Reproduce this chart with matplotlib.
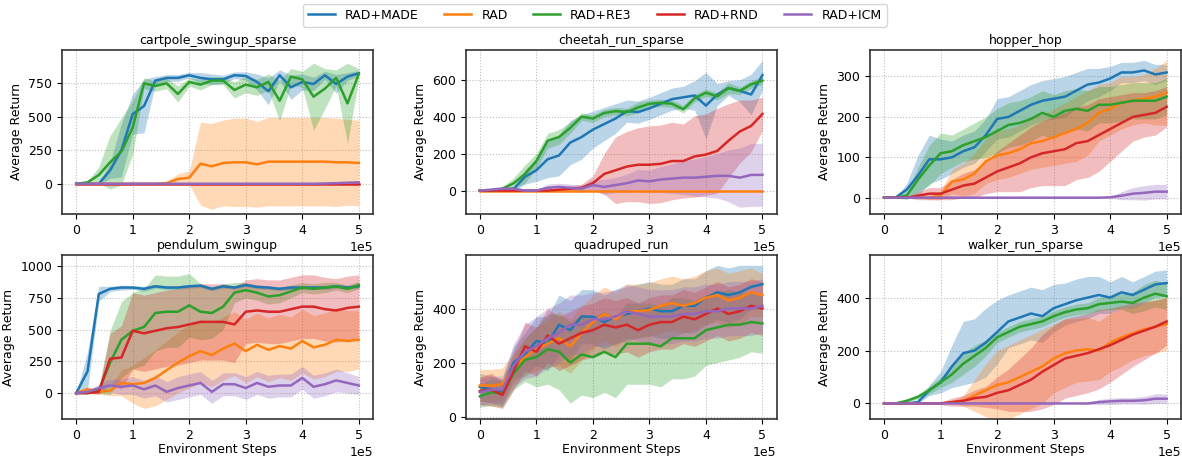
import numpy as np
import matplotlib
matplotlib.use("Agg")
from matplotlib import pyplot as plt

# evaluation every 2e4 environment steps
steps = np.linspace(0, 5e5, 26)

methods = ['RAD+MADE', 'RAD', 'RAD+RE3', 'RAD+RND', 'RAD+ICM']
colors = ['tab:blue', 'tab:orange', 'tab:green', 'tab:red', 'tab:purple']
tasks = ['cartpole_swingup_sparse', 'cheetah_run_sparse', 'hopper_hop',
         'pendulum_swingup', 'quadruped_run', 'walker_run_sparse']

# cartpole_swingup_sparse
cartpole_made = [0, 0, 0, 100, 250, 520, 580, 770, 790, 790, 810, 790, 780, 780, 810, 805, 760, 690, 810, 720, 760, 745, 810, 745, 800, 825]
cartpole_made_sd = [0, 0, 5, 60, 200, 150, 200, 30, 25, 25, 20, 40, 40, 30, 25, 30, 60, 100, 40, 90, 60, 50, 30, 70, 30, 20]
cartpole_rad = [0, 0, 0, 0, 0, 0, 0, 0, 5, 35, 45, 150, 130, 155, 160, 160, 145, 165, 165, 165, 165, 165, 165, 160, 160, 155]
cartpole_rad_sd = [0, 0, 0, 0, 0, 0, 0, 0, 10, 40, 50, 310, 320, 320, 330, 330, 320, 330, 330, 330, 330, 330, 330, 330, 320, 320]
cartpole_re3 = [0, 10, 65, 160, 240, 420, 750, 730, 750, 670, 760, 740, 770, 770, 700, 740, 720, 760, 620, 800, 780, 650, 710, 790, 600, 820]
cartpole_re3_sd = [0, 10, 60, 200, 250, 200, 40, 40, 40, 60, 30, 40, 30, 30, 60, 60, 60, 60, 150, 60, 60, 250, 150, 60, 300, 40]
cartpole_rnd = [0, 0, 0, 0, 0, 0, 0, 0, 0, 0, 0, 0, 0, 0, 0, 0, 0, 0, 0, 0, 0, 0, 0, 0, 0, 0]
cartpole_rnd_sd = [0, 0, 0, 0, 0, 0, 0, 0, 0, 0, 0, 0, 0, 0, 0, 0, 0, 0, 0, 0, 0, 0, 0, 0, 0, 0]
cartpole_icm = [0, 0, 0, 0, 0, 0, 0, 0, 0, 0, 0, 0, 0, 0, 0, 0, 0, 0, 0, 0, 0, 0, 2, 4, 8, 10]
cartpole_icm_sd = [0, 0, 0, 0, 0, 0, 0, 0, 0, 0, 0, 0, 0, 0, 0, 0, 0, 0, 0, 0, 0, 0, 4, 6, 10, 10]

# cheetah_run_sparse
cheetah_made = [0, 0, 5, 10, 75, 110, 170, 190, 260, 290, 330, 360, 390, 430, 425, 445, 470, 495, 505, 515, 460, 520, 555, 540, 520, 625]
cheetah_made_sd = [0, 0, 10, 10, 40, 60, 100, 110, 120, 120, 100, 90, 80, 60, 60, 60, 60, 60, 60, 80, 180, 60, 40, 60, 110, 80]
cheetah_rad = [0, 0, 0, 0, 0, 0, 0, 0, 0, 0, 0, 0, 0, 0, 0, 0, 0, 0, 0, 0, 0, 0, 0, 0, 0, 0]
cheetah_rad_sd = [0, 0, 0, 0, 0, 0, 0, 0, 0, 0, 0, 0, 0, 0, 0, 0, 0, 0, 0, 0, 0, 0, 0, 0, 0, 0]
cheetah_re3 = [0, 0, 10, 40, 90, 160, 270, 290, 340, 400, 390, 420, 430, 425, 450, 470, 475, 470, 440, 500, 530, 510, 555, 540, 575, 595]
cheetah_re3_sd = [0, 0, 10, 30, 50, 40, 40, 40, 30, 20, 20, 20, 20, 20, 30, 20, 20, 20, 20, 20, 20, 20, 30, 20, 20, 20]
cheetah_rnd = [0, 0, 0, 0, 0, 0, 0, 5, 10, 15, 40, 90, 110, 130, 140, 140, 145, 160, 160, 185, 195, 215, 270, 320, 350, 415]
cheetah_rnd_sd = [0, 0, 0, 0, 0, 5, 5, 10, 15, 20, 40, 110, 180, 190, 200, 210, 210, 210, 200, 220, 220, 230, 200, 170, 140, 90]
cheetah_icm = [0, 5, 10, 10, 0, 0, 15, 20, 15, 10, 30, 20, 30, 40, 55, 50, 60, 65, 70, 70, 75, 80, 80, 70, 85, 85]
cheetah_icm_sd = [0, 10, 15, 10, 5, 5, 20, 20, 20, 20, 30, 40, 40, 50, 60, 60, 70, 80, 90, 100, 110, 120, 140, 160, 170, 170]

# hopper_hop
hopper_made = [0, 0, 20, 55, 95, 95, 100, 115, 125, 155, 195, 200, 215, 230, 240, 245, 250, 265, 280, 285, 295, 310, 310, 315, 305, 310]
hopper_made_sd = [0, 0, 15, 50, 60, 50, 40, 40, 40, 40, 50, 50, 50, 50, 50, 50, 50, 45, 40, 35, 30, 25, 25, 25, 25, 20]
hopper_rad = [0, 0, 0, 0, 0, 5, 40, 45, 60, 90, 105, 110, 120, 135, 140, 150, 160, 170, 185, 210, 220, 235, 240, 245, 250, 260]
hopper_rad_sd = [0, 0, 0, 0, 5, 10, 30, 40, 50, 55, 60, 60, 60, 65, 65, 70, 75, 80, 80, 70, 65, 65, 60, 60, 70, 80]
hopper_re3 = [0, 0, 5, 45, 80, 110, 115, 130, 140, 150, 165, 180, 185, 195, 210, 200, 215, 220, 215, 230, 230, 235, 240, 240, 240, 250]
hopper_re3_sd = [0, 0, 10, 30, 50, 50, 40, 40, 45, 50, 55, 55, 55, 55, 55, 55, 50, 50, 50, 45, 45, 45, 45, 45, 45, 45]
hopper_rnd = [0, 0, 0, 5, 10, 10, 20, 30, 35, 50, 65, 75, 85, 100, 110, 115, 120, 135, 140, 155, 170, 185, 200, 205, 210, 225]
hopper_rnd_sd = [0, 0, 0, 10, 15, 15, 25, 30, 35, 40, 50, 60, 70, 75, 80, 85, 90, 90, 90, 90, 80, 70, 60, 55, 55, 50]
hopper_icm = [0, 0, 0, 0, 0, 0, 0, 0, 0, 0, 0, 0, 0, 0, 0, 0, 0, 0, 0, 0, 1, 5, 10, 12, 15, 15]
hopper_icm_sd = [0, 0, 0, 0, 0, 0, 0, 0, 0, 0, 0, 0, 0, 0, 0, 0, 0, 0, 0, 0, 2, 10, 15, 18, 18, 18]

# pendulum_swingup
pendulum_made = [0, 170, 780, 820, 830, 830, 820, 840, 830, 830, 840, 845, 820, 840, 830, 850, 835, 830, 820, 830, 830, 830, 830, 840, 830, 840]
pendulum_made_sd = [0, 150, 60, 20, 20, 15, 20, 15, 15, 15, 15, 15, 15, 15, 15, 15, 15, 15, 15, 15, 15, 15, 15, 15, 15, 15]
pendulum_rad = [0, 30, 10, 20, 80, 70, 80, 120, 180, 240, 290, 330, 300, 350, 390, 330, 380, 340, 370, 350, 410, 360, 380, 420, 410, 420]
pendulum_rad_sd = [0, 20, 20, 40, 100, 150, 200, 220, 230, 240, 250, 250, 250, 250, 250, 250, 250, 250, 250, 250, 250, 250, 250, 250, 240, 230]
pendulum_re3 = [0, 0, 20, 240, 420, 490, 520, 630, 640, 640, 690, 640, 630, 680, 790, 810, 790, 760, 770, 800, 830, 820, 830, 840, 820, 850]
pendulum_re3_sd = [0, 0, 20, 250, 300, 300, 300, 300, 280, 280, 250, 220, 200, 180, 80, 60, 60, 60, 60, 50, 40, 40, 40, 30, 30, 30]
pendulum_rnd = [0, 0, 10, 270, 280, 490, 470, 490, 510, 520, 540, 560, 560, 560, 540, 640, 650, 640, 640, 660, 680, 680, 660, 650, 670, 680]
pendulum_rnd_sd = [0, 0, 20, 200, 250, 300, 300, 300, 300, 300, 300, 300, 300, 300, 300, 250, 250, 250, 250, 250, 250, 250, 250, 250, 250, 250]
pendulum_icm = [0, 10, 40, 60, 50, 60, 30, 60, 10, 40, 60, 80, 10, 70, 70, 40, 80, 50, 60, 60, 120, 50, 70, 100, 80, 60]
pendulum_icm_sd = [0, 10, 30, 50, 60, 70, 70, 80, 80, 90, 90, 90, 90, 90, 90, 90, 90, 90, 90, 90, 90, 90, 90, 90, 80, 70]

# quadruped_run
quadruped_made = [110, 100, 90, 200, 230, 280, 270, 340, 320, 370, 370, 350, 370, 380, 390, 400, 390, 390, 410, 410, 440, 460, 450, 460, 480, 490]
quadruped_made_sd = [50, 50, 50, 60, 80, 90, 100, 110, 110, 100, 100, 100, 100, 100, 100, 100, 100, 100, 100, 100, 100, 100, 100, 100, 80, 70]
quadruped_rad = [115, 115, 120, 180, 220, 250, 270, 290, 260, 310, 350, 380, 360, 390, 390, 395, 410, 420, 410, 420, 440, 450, 430, 440, 460, 450]
quadruped_rad_sd = [60, 60, 60, 60, 70, 80, 90, 100, 100, 100, 100, 100, 100, 100, 100, 100, 100, 100, 100, 100, 100, 100, 100, 100, 90, 80]
quadruped_re3 = [75, 90, 85, 160, 210, 220, 250, 240, 200, 230, 220, 240, 220, 270, 270, 270, 260, 290, 290, 290, 320, 330, 340, 340, 350, 345]
quadruped_re3_sd = [40, 50, 50, 60, 80, 110, 130, 140, 150, 150, 150, 150, 150, 150, 150, 150, 150, 150, 150, 140, 130, 130, 130, 120, 110, 110]
quadruped_rnd = [95, 100, 80, 170, 260, 240, 300, 270, 290, 310, 320, 340, 330, 340, 320, 340, 350, 350, 370, 360, 380, 400, 380, 390, 410, 400]
quadruped_rnd_sd = [50, 60, 50, 70, 90, 90, 100, 100, 100, 100, 100, 100, 100, 100, 100, 100, 100, 100, 100, 100, 100, 100, 100, 100, 100, 100]
quadruped_icm = [90, 100, 100, 190, 240, 260, 290, 310, 340, 340, 360, 360, 370, 390, 380, 370, 370, 370, 380, 380, 390, 390, 400, 400, 400, 410]
quadruped_icm_sd = [50, 50, 50, 80, 100, 110, 110, 110, 110, 110, 100, 100, 100, 100, 100, 100, 100, 100, 100, 100, 100, 100, 100, 100, 100, 100]

# walker_run_sparse
walker_made = [0, 0, 0, 5, 50, 80, 140, 190, 200, 230, 270, 310, 325, 340, 330, 360, 375, 390, 400, 410, 400, 420, 410, 430, 450, 455]
walker_made_sd = [0, 0, 0, 5, 20, 40, 80, 120, 120, 130, 120, 100, 100, 100, 100, 90, 80, 80, 80, 70, 60, 60, 50, 50, 50, 50]
walker_rad = [0, 0, 0, 0, 0, 0, 5, 10, 30, 50, 70, 80, 100, 120, 140, 170, 190, 200, 205, 200, 230, 250, 265, 280, 290, 300]
walker_rad_sd = [0, 0, 0, 0, 0, 0, 5, 20, 60, 100, 130, 140, 140, 140, 140, 130, 130, 120, 120, 110, 110, 110, 100, 100, 100, 100]
walker_re3 = [0, 0, 10, 25, 50, 80, 110, 150, 180, 210, 250, 270, 290, 300, 310, 330, 345, 355, 360, 375, 380, 385, 380, 400, 415, 405]
walker_re3_sd = [0, 0, 5, 10, 15, 20, 30, 40, 40, 30, 20, 20, 20, 20, 20, 20, 20, 20, 20, 25, 25, 30, 40, 50, 50, 50]
walker_rnd = [0, 0, 0, 0, 0, 0, 5, 10, 20, 25, 40, 50, 70, 90, 120, 145, 170, 180, 190, 205, 220, 240, 260, 275, 290, 310]
walker_rnd_sd = [0, 0, 0, 0, 0, 5, 15, 20, 30, 40, 60, 80, 100, 120, 140, 150, 150, 150, 150, 150, 140, 130, 120, 110, 100, 90]
walker_icm = [0, 0, 0, 0, 0, 0, 0, 0, 0, 0, 0, 0, 0, 0, 0, 0, 0, 0, 0, 5, 8, 10, 10, 12, 18, 18]
walker_icm_sd = [0, 0, 0, 0, 0, 0, 0, 0, 0, 0, 0, 0, 0, 0, 0, 0, 0, 0, 3, 10, 12, 12, 12, 15, 18, 18]

curves = [
  [(cartpole_made, cartpole_made_sd), (cartpole_rad, cartpole_rad_sd), (cartpole_re3, cartpole_re3_sd),
   (cartpole_rnd, cartpole_rnd_sd), (cartpole_icm, cartpole_icm_sd)],
  [(cheetah_made, cheetah_made_sd), (cheetah_rad, cheetah_rad_sd), (cheetah_re3, cheetah_re3_sd),
   (cheetah_rnd, cheetah_rnd_sd), (cheetah_icm, cheetah_icm_sd)],
  [(hopper_made, hopper_made_sd), (hopper_rad, hopper_rad_sd), (hopper_re3, hopper_re3_sd),
   (hopper_rnd, hopper_rnd_sd), (hopper_icm, hopper_icm_sd)],
  [(pendulum_made, pendulum_made_sd), (pendulum_rad, pendulum_rad_sd), (pendulum_re3, pendulum_re3_sd),
   (pendulum_rnd, pendulum_rnd_sd), (pendulum_icm, pendulum_icm_sd)],
  [(quadruped_made, quadruped_made_sd), (quadruped_rad, quadruped_rad_sd), (quadruped_re3, quadruped_re3_sd),
   (quadruped_rnd, quadruped_rnd_sd), (quadruped_icm, quadruped_icm_sd)],
  [(walker_made, walker_made_sd), (walker_rad, walker_rad_sd), (walker_re3, walker_re3_sd),
   (walker_rnd, walker_rnd_sd), (walker_icm, walker_icm_sd)],
]

y_limits = [(-225, 1000), (-126, 762), (-40, 366), (-204, 1086), (-9, 598), (-59, 561)]
y_ticks = [[0, 250, 500, 750], [0, 200, 400, 600], [0, 100, 200, 300],
           [0, 250, 500, 750, 1000], [0, 200, 400], [0, 200, 400]]

plt.rcParams['font.size'] = 9
fig = plt.figure(figsize=(11.82, 4.57), dpi=100)
lefts = [0.0525, 0.394, 0.736]
bottoms = [0.532, 0.083]

handles = []
for k, task in enumerate(tasks):
  row, col = divmod(k, 3)
  ax = fig.add_axes([lefts[col], bottoms[row], 0.263, 0.359])
  for m, (mean, sd) in enumerate(curves[k]):
    mean = np.array(mean, dtype=float)
    sd = np.array(sd, dtype=float)
    ax.fill_between(steps, mean - sd, mean + sd, color=colors[m], alpha=0.3, linewidth=0)
    line, = ax.plot(steps, mean, color=colors[m], linewidth=1.8, label=methods[m])
    if k == 0:
      handles.append(line)
  ax.set_xlim(-25000, 525000)
  ax.set_ylim(*y_limits[k])
  ax.set_yticks(y_ticks[k])
  ax.set_xticks([0, 1e5, 2e5, 3e5, 4e5, 5e5])
  ax.ticklabel_format(axis='x', style='sci', scilimits=(0, 0))
  ax.grid(color='0.75', linestyle=':', linewidth=0.8)
  ax.set_axisbelow(True)
  for s in ax.spines.values():
    s.set_color('0.2')
    s.set_linewidth(1.2)
  ax.set_title(task, fontsize=9, pad=4)
  ax.set_ylabel('Average Return')
  if row == 1:
    ax.set_xlabel('Environment Steps', labelpad=1)

fig.legend(handles, methods, loc='upper center', bbox_to_anchor=(0.503, 1.0), ncol=5,
           fontsize=9, handlelength=2.2, columnspacing=2.0, borderaxespad=0.3)
plt.savefig('out.png', dpi=100)
